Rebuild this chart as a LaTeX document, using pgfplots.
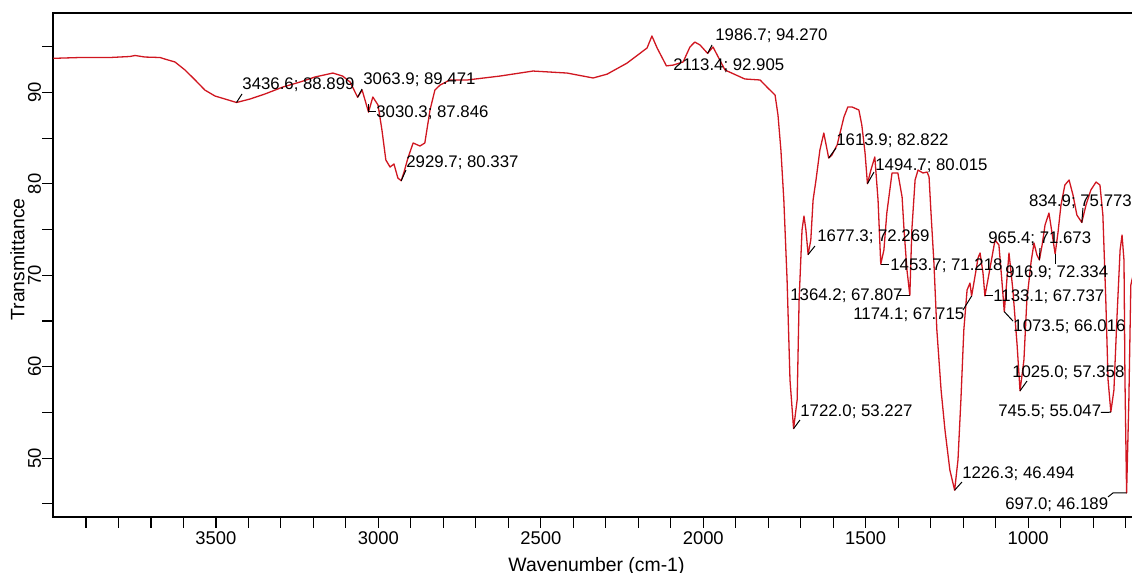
\documentclass[border=0pt]{standalone}
\usepackage{fontspec}
\setmainfont{Liberation Sans}
\usepackage{pgfplots}
\pgfplotsset{compat=1.18}
\definecolor{spec}{RGB}{208,22,32}
\begin{document}
\begin{tikzpicture}
\begin{axis}[
  at={(26.5pt,28pt)}, anchor=south west,
  scale only axis, width=543.5pt, height=252pt,
  x dir=reverse, xmin=655.8, xmax=4001.5, ymin=43.56, ymax=98.69,
  xtick={1000,1500,2000,2500,3000,3500},
  minor xtick={700,800,...,3900},
  ytick={50,60,70,80,90},
  minor ytick={45,55,65,75,85,95},
  tick align=outside, tick pos=left,
  major tick length=5.3pt, minor tick length=5.3pt,
  tick style={black, line width=0.6pt},
  minor tick style={black, line width=0.6pt},
  axis line style={line width=0.6pt},
  /pgf/number format/assume math mode=true,
  /pgf/number format/1000 sep={},
  xticklabel style={font=\fontsize{9.2}{10}\selectfont, inner sep=2pt},
  yticklabel style={rotate=90, anchor=south, font=\fontsize{9.2}{10}\selectfont, inner sep=0.5pt},
  xlabel={Wavenumber (cm-1)}, ylabel={Transmittance},
  label style={font=\fontsize{9.7}{11}\selectfont},
  xlabel style={at={(axis description cs:0.5,-0.0794)}, anchor=north, inner sep=0pt},
  ylabel style={at={(axis description cs:-0.0258,0.511)}, anchor=south, inner sep=0pt},
]
\addplot[spec, line width=0.65pt, line join=round, mark=none] coordinates {
(4000,93.73) (3918,93.82) (3826,93.82) (3765,93.93) (3749,94.04) (3718,93.87)
(3672,93.82) (3657,93.65) (3626,93.33) (3595,92.45) (3564,91.36) (3534,90.26)
(3503,89.61) (3472,89.28) (3436.6,88.899) (3395,89.28) (3349,89.83) (3294,90.59)
(3241,91.14) (3195,91.69) (3140,92.12) (3110,91.79) (3087,91.14) (3063.9,89.471)
(3050,90.26) (3030.3,87.846) (3017,89.50) (3001,88.62) (2989,85.89) (2977,82.61)
(2964,81.84) (2952,82.17) (2940,80.64) (2929.7,80.337) (2921,81.29) (2909,82.83)
(2893,84.47) (2872,84.14) (2857,84.47) (2841,88.08) (2826,90.26) (2810,90.81)
(2780,91.36) (2727,91.36) (2626,91.79) (2524,92.34) (2419,92.12) (2339,91.58)
(2296,92.0) (2235,93.2) (2173,94.86) (2158,96.17) (2142,94.86) (2113.4,92.905)
(2093,92.99) (2062,93.33) (2041,94.97) (2026,95.51) (2010,95.19) (1986.7,94.270)
(1970,94.97) (1933,92.45) (1872,91.47) (1825,91.36) (1801,90.48) (1779,89.72)
(1770,87.53) (1761,83.70) (1752,78.22) (1742,69.48) (1733,58.54) (1722.0,53.227)
(1711,56.36) (1705,67.29) (1696,74.95) (1690,76.48) (1684,74.95) (1677.3,72.269)
(1669,73.86) (1662,78.22) (1653,80.42) (1641,83.70) (1629,85.56) (1613.9,82.822)
(1604,83.15) (1588,84.25) (1567,87.31) (1555,88.41) (1542,88.41) (1521,88.08)
(1512,86.44) (1502,83.37) (1494.7,80.015) (1484,81.51) (1472,82.94) (1462,78.22)
(1453.7,71.218) (1444,72.76) (1435,76.81) (1419,81.19) (1401,81.19) (1388,78.56)
(1382,74.95) (1373,70.58) (1364.2,67.807) (1358,74.95) (1348,80.42) (1339,81.51)
(1324,81.19) (1311,81.29) (1305,80.75) (1299,76.81) (1290,71.34) (1281,64.01)
(1268,57.45) (1256,53.07) (1241,48.7) (1226.3,46.494) (1216,49.79) (1207,56.36)
(1198,64.01) (1188,68.39) (1179,69.15) (1174.1,67.715) (1164,69.81) (1154,71.92)
(1148,72.44) (1139,70.25) (1133.1,67.737) (1124,69.48) (1114,71.45) (1102,73.86)
(1090,73.31) (1081,69.48) (1073.5,66.016) (1068,68.39) (1059,72.44) (1047,68.39)
(1034,62.37) (1025.0,57.358) (1013,60.73) (1004,67.29) (991,71.45) (982,73.53)
(973,72.22) (965.4,71.673) (957,73.31) (948,75.5) (936,76.81) (927,74.73)
(916.9,72.334) (908,74.73) (899,77.68) (887,79.87) (874,80.42) (862,78.78)
(850,76.59) (834.9,75.773) (822,77.68) (807,79.33) (791,80.2) (779,79.87)
(770,76.59) (761,67.29) (754,58.54) (745.5,55.047) (736,57.45) (727,65.11)
(717,72.76) (711,74.4) (705,71.64) (702,58.54) (697.0,46.189) (690,56.36)
(684,68.93) (677,70.03)
};
% leader lines
\draw[black, line width=0.5pt] (axis cs:3436.6,88.9) -- (axis cs:3419.7,89.83);
\draw[black, line width=0.5pt] (axis cs:3063.9,89.47) -- (axis cs:3050.4,90.37);
\draw[black, line width=0.5pt] (axis cs:3030.3,88.73) -- (axis cs:3030.3,87.86) -- (axis cs:3007.3,87.86);
\draw[black, line width=0.5pt] (axis cs:2929.7,80.34) -- (axis cs:2915,81.51);
\draw[black, line width=0.5pt] (axis cs:1986.7,94.27) -- (axis cs:1973,95.19);
\draw[black, line width=0.5pt] (axis cs:1613.9,82.82) -- (axis cs:1591.5,83.92);
\draw[black, line width=0.5pt] (axis cs:1494.7,80.02) -- (axis cs:1474.5,81.29);
\draw[black, line width=0.5pt] (axis cs:834.9,75.77) -- (axis cs:831.3,77.36);
\draw[black, line width=0.5pt] (axis cs:1677.3,72.27) -- (axis cs:1656.2,73.20);
\draw[black, line width=0.5pt] (axis cs:965.4,71.67) -- (axis cs:963.5,72.98);
\draw[black, line width=0.5pt] (axis cs:1453.7,71.218) -- (axis cs:1428.4,71.218);
\draw[black, line width=0.5pt] (axis cs:916.9,72.33) -- (axis cs:916.9,71.23);
\draw[black, line width=0.5pt] (axis cs:1402.7,67.81) -- (axis cs:1364.2,67.81);
\draw[black, line width=0.5pt] (axis cs:1133.1,67.74) -- (axis cs:1108.3,67.74);
\draw[black, line width=0.5pt] (axis cs:1200.6,66.20) -- (axis cs:1174.1,67.72);
\draw[black, line width=0.5pt] (axis cs:1073.5,66.02) -- (axis cs:1046.6,64.99);
\draw[black, line width=0.5pt] (axis cs:1025,57.36) -- (axis cs:1003.6,58.43);
\draw[black, line width=0.5pt] (axis cs:1722,53.23) -- (axis cs:1702.3,54.17);
\draw[black, line width=0.5pt] (axis cs:775.8,55.0) -- (axis cs:754.3,55.0) -- (axis cs:745.5,55.047);
\draw[black, line width=0.5pt] (axis cs:1226.3,46.49) -- (axis cs:1203.7,47.39);
\draw[black, line width=0.5pt] (axis cs:754.3,45.75) -- (axis cs:738.9,46.19) -- (axis cs:697,46.19);
% labels
\begin{scope}[every node/.style={anchor=west, inner sep=0pt, font=\fontsize{8.4}{9}\selectfont}]
\node at (axis cs:3419.7,90.81) {3436.6; 88.899};
\node at (axis cs:3047.3,91.36) {3063.9; 89.471};
\node at (axis cs:3007.3,87.75) {3030.3; 87.846};
\node at (axis cs:2915,82.28) {2929.7; 80.337};
\node at (axis cs:1963.9,96.17) {1986.7; 94.270};
\node at (axis cs:2093.2,92.89) {2113.4; 92.905};
\node at (axis cs:1591.5,84.69) {1613.9; 82.822};
\node at (axis cs:1471.4,81.95) {1494.7; 80.015};
\node at (axis cs:998.5,78.01) {834.9; 75.773};
\node at (axis cs:1649.9,74.18) {1677.3; 72.269};
\node at (axis cs:1123.6,73.97) {965.4; 71.673};
\node at (axis cs:1425.3,71.0) {1453.7; 71.218};
\node at (axis cs:1071.3,70.25) {916.9; 72.334};
\node at (axis cs:1733.1,67.73) {1364.2; 67.807};
\node at (axis cs:1108.3,67.62) {1133.1; 67.737};
\node at (axis cs:1539.2,65.65) {1174.1; 67.715};
\node at (axis cs:1046.6,64.34) {1073.5; 66.016};
\node at (axis cs:1050,59.31) {1025.0; 57.358};
\node at (axis cs:1702.3,55.04) {1722.0; 53.227};
\node at (axis cs:1092.9,55.04) {745.5; 55.047};
\node at (axis cs:1203.7,48.26) {1226.3; 46.494};
\node at (axis cs:1071.3,44.87) {697.0; 46.189};
\end{scope}
\end{axis}
\pgfresetboundingbox
\useasboundingbox (0,0) rectangle (566pt,286.5pt);
\end{tikzpicture}
\end{document}
